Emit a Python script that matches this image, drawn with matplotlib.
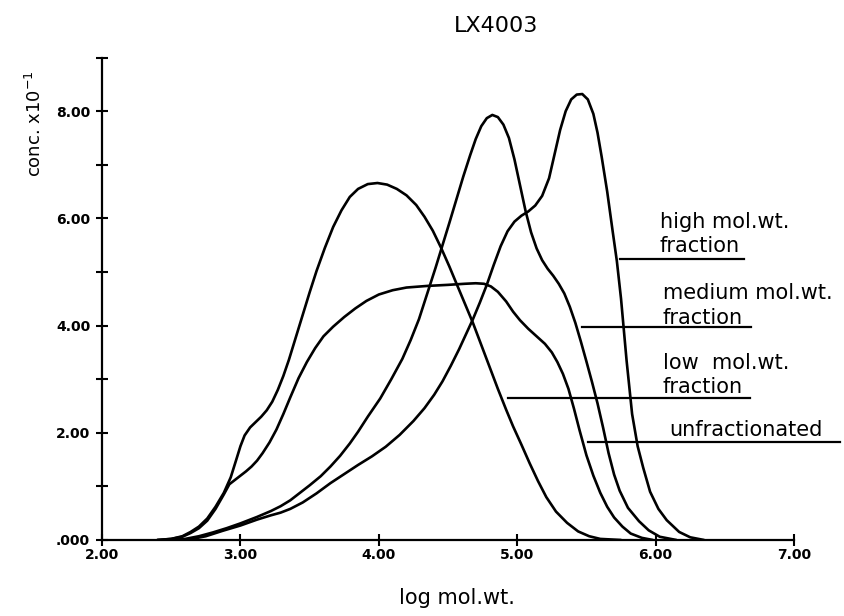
import matplotlib
matplotlib.use("Agg")
import matplotlib.pyplot as plt
from matplotlib.ticker import MultipleLocator, FixedLocator

# ---- data ----
low_x = [2.40, 2.50, 2.58, 2.64, 2.70, 2.76, 2.82, 2.88, 2.93, 2.97, 3.00, 3.03, 3.07, 3.11,
         3.15, 3.19, 3.23, 3.27, 3.31, 3.35, 3.40, 3.45, 3.50, 3.55, 3.61, 3.67, 3.73, 3.79,
         3.85, 3.92, 3.99, 4.06, 4.13, 4.20, 4.27, 4.33, 4.39, 4.45, 4.51, 4.56, 4.62, 4.68,
         4.74, 4.80, 4.86, 4.92, 4.97, 5.03, 5.09, 5.15, 5.21, 5.28, 5.36, 5.44, 5.52, 5.60,
         5.75]
low_y = [0.00, 0.02, 0.07, 0.15, 0.25, 0.40, 0.62, 0.88, 1.17, 1.50, 1.75, 1.95, 2.10, 2.20,
         2.30, 2.42, 2.58, 2.80, 3.06, 3.36, 3.78, 4.20, 4.62, 5.02, 5.45, 5.84, 6.15, 6.40,
         6.55, 6.64, 6.66, 6.63, 6.55, 6.43, 6.25, 6.03, 5.77, 5.45, 5.10, 4.79, 4.42, 4.05,
         3.64, 3.23, 2.82, 2.43, 2.12, 1.78, 1.43, 1.10, 0.80, 0.53, 0.32, 0.16, 0.07, 0.02,
         0.00]

unf_x = [2.40, 2.50, 2.58, 2.64, 2.70, 2.76, 2.82, 2.88, 2.92, 2.96, 3.00, 3.04, 3.08, 3.12,
         3.16, 3.21, 3.26, 3.31, 3.36, 3.42, 3.48, 3.54, 3.60, 3.67, 3.75, 3.83, 3.91, 4.00,
         4.10, 4.20, 4.35, 4.50, 4.62, 4.70, 4.76, 4.81, 4.86, 4.92, 4.97, 5.02, 5.08, 5.14,
         5.20, 5.25, 5.29, 5.33, 5.37, 5.41, 5.45, 5.50, 5.55, 5.60, 5.65, 5.70, 5.76, 5.82,
         5.90, 5.98]
unf_y = [0.00, 0.02, 0.06, 0.13, 0.22, 0.36, 0.58, 0.85, 1.04, 1.12, 1.20, 1.28, 1.37, 1.48,
         1.62, 1.82, 2.06, 2.35, 2.66, 3.02, 3.32, 3.58, 3.80, 3.98, 4.16, 4.32, 4.46, 4.58,
         4.66, 4.71, 4.74, 4.76, 4.78, 4.79, 4.78, 4.73, 4.63, 4.45, 4.26, 4.10, 3.94, 3.80,
         3.66, 3.50, 3.32, 3.10, 2.82, 2.45, 2.05, 1.58, 1.20, 0.88, 0.62, 0.42, 0.25, 0.12,
         0.04, 0.00]

med_x = [2.50, 2.60, 2.70, 2.80, 2.90, 3.00, 3.12, 3.22, 3.29, 3.36, 3.43, 3.50, 3.58, 3.65,
         3.72, 3.79, 3.85, 3.92, 4.01, 4.09, 4.17, 4.23, 4.29, 4.35, 4.41, 4.46, 4.51, 4.56,
         4.61, 4.66, 4.70, 4.74, 4.78, 4.82, 4.86, 4.90, 4.94, 4.98, 5.02, 5.06, 5.10, 5.14,
         5.18, 5.22, 5.26, 5.30, 5.34, 5.38, 5.42, 5.46, 5.50, 5.54, 5.58, 5.62, 5.66, 5.70,
         5.74, 5.80, 5.88, 5.95, 6.03, 6.15]
med_y = [0.00, 0.02, 0.07, 0.14, 0.22, 0.31, 0.43, 0.54, 0.63, 0.74, 0.88, 1.02, 1.19, 1.37,
         1.57, 1.80, 2.02, 2.30, 2.64, 3.00, 3.38, 3.73, 4.12, 4.60, 5.08, 5.50, 5.92, 6.35,
         6.78, 7.18, 7.48, 7.72, 7.87, 7.93, 7.89, 7.75, 7.50, 7.10, 6.62, 6.14, 5.74, 5.44,
         5.22, 5.06, 4.93, 4.78, 4.60, 4.35, 4.05, 3.70, 3.33, 2.95, 2.55, 2.10, 1.62, 1.22,
         0.92, 0.60, 0.35, 0.18, 0.06, 0.00]

high_x = [2.55, 2.65, 2.75, 2.87, 3.00, 3.12, 3.22, 3.29, 3.36, 3.45, 3.55, 3.65, 3.75, 3.85,
          3.95, 4.05, 4.15, 4.25, 4.33, 4.40, 4.46, 4.52, 4.58, 4.63, 4.68, 4.73, 4.78, 4.83,
          4.88, 4.93, 4.98, 5.03, 5.08, 5.13, 5.18, 5.23, 5.27, 5.31, 5.35, 5.39, 5.43, 5.47,
          5.51, 5.55, 5.58, 5.61, 5.65, 5.69, 5.72, 5.75, 5.79, 5.83, 5.87, 5.91, 5.96, 6.02,
          6.08, 6.17, 6.25, 6.35]
high_y = [0.00, 0.02, 0.07, 0.17, 0.27, 0.38, 0.46, 0.51, 0.58, 0.70, 0.87, 1.06, 1.23, 1.40,
          1.56, 1.74, 1.96, 2.22, 2.46, 2.71, 2.96, 3.25, 3.56, 3.84, 4.12, 4.43, 4.76, 5.13,
          5.48, 5.76, 5.94, 6.05, 6.13, 6.24, 6.42, 6.75, 7.20, 7.65, 8.00, 8.22, 8.31, 8.32,
          8.22, 7.95, 7.60, 7.15, 6.50, 5.75, 5.20, 4.50, 3.35, 2.35, 1.75, 1.35, 0.90, 0.58,
          0.37, 0.15, 0.05, 0.00]

x_ticks = [2, 3, 4, 5, 6, 7]
x_tick_labels = ["2.00", "3.00", "4.00", "5.00", "6.00", "7.00"]
y_ticks = [0, 2, 4, 6, 8]
y_tick_labels = [".000", "2.00", "4.00", "6.00", "8.00"]

labels = ["high mol.wt.\nfraction", "medium mol.wt.\nfraction",
          "low  mol.wt.\nfraction", "unfractionated"]
label_text_xy = [(6.03, 5.71), (6.05, 4.38), (6.05, 3.08), (6.10, 2.05)]
label_line_x = [(5.74, 6.64), (5.47, 6.69), (4.93, 6.68), (5.51, 7.33)]
label_line_y = [5.24, 3.97, 2.65, 1.83]

# ---- figure ----
fig = plt.figure(figsize=(8.44, 6.16), dpi=100)
ax = fig.add_axes([0.1209, 0.1234, 0.8199, 0.7831])

lw = 1.9
for xs, ys in [(low_x, low_y), (unf_x, unf_y), (med_x, med_y), (high_x, high_y)]:
    ax.plot(xs, ys, color="black", lw=lw, solid_capstyle="round", solid_joinstyle="round")

for (x0, x1), yy in zip(label_line_x, label_line_y):
    ax.plot([x0, x1], [yy, yy], color="black", lw=1.6, clip_on=False)

for txt, (tx, ty) in zip(labels, label_text_xy):
    ax.text(tx, ty, txt, fontsize=15, ha="left", va="center", linespacing=1.3,
            clip_on=False)

ax.set_xlim(2, 7)
ax.set_ylim(0, 9.0)

for s in ["top", "right"]:
    ax.spines[s].set_visible(False)
for s in ["left", "bottom"]:
    ax.spines[s].set_linewidth(1.6)

ax.xaxis.set_major_locator(FixedLocator(x_ticks))
ax.set_xticklabels(x_tick_labels, fontweight="bold", fontsize=10)
ax.yaxis.set_major_locator(FixedLocator(y_ticks))
ax.set_yticklabels(y_tick_labels, fontweight="bold", fontsize=10)
ax.yaxis.set_minor_locator(MultipleLocator(1))
ax.tick_params(axis="both", which="both", direction="inout", width=1.5)
ax.tick_params(axis="y", which="major", length=9, pad=4)
ax.tick_params(axis="y", which="minor", length=9)
ax.tick_params(axis="x", which="major", length=8, pad=2)

fig.text(0.588, 0.958, "LX4003", fontsize=16, ha="center", va="center")
fig.text(0.541, 0.030, "log mol.wt.", fontsize=15, ha="center", va="center")
fig.text(0.042, 0.80, r"conc. x10$^{-1}$", fontsize=13, rotation=90,
         ha="center", va="center")

fig.savefig("out.png", dpi=100, facecolor="white")
